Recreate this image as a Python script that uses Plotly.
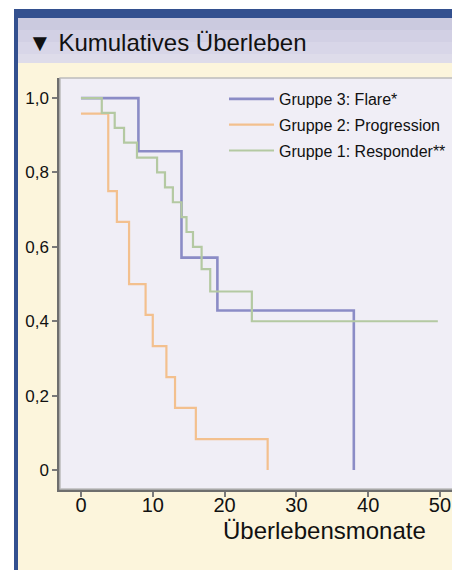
import plotly.graph_objects as go

# ---- data ----
flare_t = [0, 8, 14, 19, 38]
flare_s = [1.0, 0.857, 0.571, 0.429, 0.0]

prog_t = [0, 3.8, 5.0, 6.7, 9.0, 10.0, 11.9, 13.1, 16.0, 26.0]
prog_s = [0.958, 0.75, 0.667, 0.5, 0.417, 0.333, 0.25, 0.167, 0.083, 0.0]

resp_t = [0, 2.9, 4.7, 6.0, 7.8, 10.6, 11.7, 12.8, 14.0, 14.7, 15.6, 16.8, 18.0, 23.8, 49.7]
resp_s = [1.0, 0.96, 0.92, 0.88, 0.84, 0.80, 0.76, 0.72, 0.68, 0.64, 0.60, 0.54, 0.48, 0.40, 0.40]

x_ticks = [0, 10, 20, 30, 40, 50]
y_ticks = [0, 0.2, 0.4, 0.6, 0.8, 1.0]
y_ticklabels = ["0", "0,2", "0,4", "0,6", "0,8", "1,0"]

title_text = "▼ Kumulatives Überleben"
x_title = "Überlebensmonate"
names = ["Gruppe 3: Flare*", "Gruppe 2: Progression", "Gruppe 1: Responder**"]
colors = ["#8b8cc6", "#f3c08e", "#b4c9a2"]

FONT = "Liberation Sans, Arial, sans-serif"
OFF = 8                      # page body margin of the html page
PAGE_W, PAGE_H = 460, 570
W, H = PAGE_W - OFF, PAGE_H - OFF
# plot area in page pixels: x 60..457, y 78..489
PL, PR, PT, PB = 60, 457, 78, 489
ML, MR, MT, MB = PL - OFF, W - (PR - OFF), PT - OFF, H - (PB - OFF)
PW = PR - PL
PH = PB - PT


def px(p):
    return (p - PL) / PW


def py(q):
    return (PB - q) / PH


fig = go.Figure()
for t, s, n, c, w in [(flare_t, flare_s, names[0], colors[0], 2.6),
                      (prog_t, prog_s, names[1], colors[1], 2.2),
                      (resp_t, resp_s, names[2], colors[2], 2.2)]:
    fig.add_trace(go.Scatter(x=t, y=s, mode="lines", name=n, legendgroup=n,
                             line=dict(color=c, width=w, shape="hv")))

shapes = []
# white strip left and top
shapes.append(dict(type="rect", xref="paper", yref="paper", x0=px(0), x1=px(14), y0=py(PAGE_H), y1=py(0),
                   fillcolor="white", line_width=0, layer="below"))
shapes.append(dict(type="rect", xref="paper", yref="paper", x0=px(0), x1=px(PAGE_W), y0=py(9), y1=py(0),
                   fillcolor="white", line_width=0, layer="below"))
# blue frame
shapes.append(dict(type="rect", xref="paper", yref="paper", x0=px(14), x1=px(PAGE_W), y0=py(18), y1=py(9),
                   fillcolor="#33508f", line_width=0, layer="below"))
shapes.append(dict(type="rect", xref="paper", yref="paper", x0=px(14), x1=px(18), y0=py(PAGE_H), y1=py(9),
                   fillcolor="#33508f", line_width=0, layer="below"))
# lavender title band (gradient approximated)
band = [(18, 30, "#cbcadf"), (30, 42, "#d2d0e4"), (42, 54, "#d8d6e8"), (54, 63, "#dedcea")]
for a, b, c in band:
    shapes.append(dict(type="rect", xref="paper", yref="paper", x0=px(18), x1=px(PAGE_W), y0=py(b), y1=py(a),
                       fillcolor=c, line_width=0, layer="below"))
# light border on top/right of plot
shapes.append(dict(type="rect", xref="paper", yref="paper", x0=0, x1=1, y0=0, y1=1,
                   line=dict(color="#bcbcbc", width=1.5), layer="above"))

fig.update_layout(
    width=W, height=H,
    margin=dict(l=ML, r=MR, t=MT, b=MB, pad=0),
    paper_bgcolor="#fcf5dc",
    plot_bgcolor="#f0eef6",
    shapes=shapes,
    font=dict(family=FONT, color="#111111"),
    showlegend=True,
    legend=dict(x=px(224), y=py(82), xanchor="left", yanchor="top",
                bgcolor="rgba(0,0,0,0)", font=dict(size=16, family=FONT, color="#111111"),
                tracegroupgap=2, itemwidth=45),
    xaxis=dict(range=[-2.92, 52.37], tickvals=x_ticks, ticks="outside", ticklen=5, tickwidth=2,
               tickcolor="#7a7a7a", showline=True, linecolor="#6e6e6e", linewidth=2.5,
               showgrid=False, zeroline=False, ticklabelstandoff=-9,
               tickfont=dict(size=20, family=FONT, color="#111111")),
    yaxis=dict(range=[-0.051, 1.054], tickvals=y_ticks, ticktext=y_ticklabels, ticks="outside",
               ticklen=5, tickwidth=2, tickcolor="#7a7a7a", showline=True, linecolor="#6e6e6e",
               linewidth=2.5, showgrid=False, zeroline=False,
               tickfont=dict(size=17, family=FONT, color="#111111")),
    annotations=[
        dict(text=title_text, xref="paper", yref="paper", x=px(26), y=py(42), xanchor="left",
             yanchor="middle", showarrow=False, font=dict(size=24, family=FONT, color="#111111")),
        dict(text=x_title, xref="paper", yref="paper", x=px(324), y=py(530), xanchor="center",
             yanchor="middle", showarrow=False, font=dict(size=24, family=FONT, color="#111111")),
    ],
)

fig.write_html("out.html")
